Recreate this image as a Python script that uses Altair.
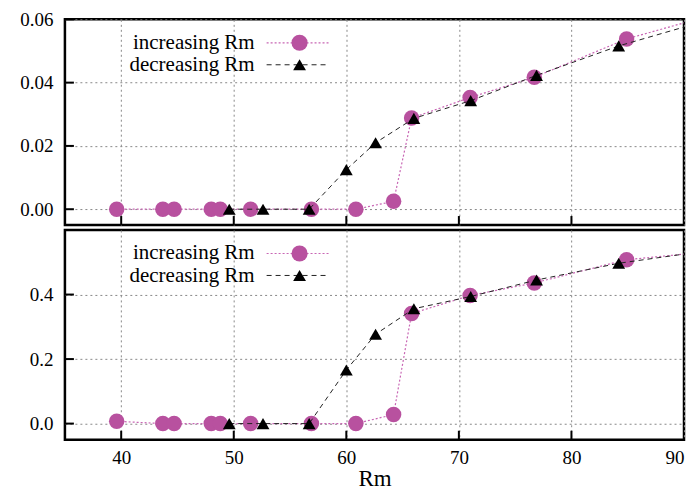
import altair as alt
import pandas as pd

# ---- data ----
inc_rm = [39.6, 43.7, 44.7, 48.0, 48.8, 51.5, 56.9, 60.85, 64.2, 65.8, 71.0, 76.7, 84.9, 95.0]
inc_top = [0.0, 0.0, 0.0, 0.0, 0.0, 0.0, 0.0, 0.0, 0.0025, 0.0288, 0.0353, 0.0417, 0.0538, 0.0639]
inc_bot = [0.007, 0.0, 0.0, 0.0, 0.0, 0.0, 0.0, 0.0, 0.028, 0.341, 0.397, 0.436, 0.508, 0.542]

dec_rm = [49.6, 52.6, 56.7, 60.0, 62.6, 66.0, 71.05, 76.9, 84.2, 95.0]
dec_top = [0.0, 0.0, 0.0, 0.0125, 0.021, 0.0287, 0.0343, 0.0423, 0.0516, 0.0627]
dec_bot = [0.0, 0.0, 0.0, 0.166, 0.277, 0.356, 0.394, 0.445, 0.497, 0.55]

x_ticks = [40, 50, 60, 70, 80, 90]
top_yticks = [0.0, 0.02, 0.04, 0.06]
bot_yticks = [0.0, 0.2, 0.4]
series_labels = ["increasing Rm", "decreasing Rm"]

# ---- styling ----
FONT = "Liberation Serif"
PURPLE = "#b8519f"
PINK = "#c866b4"
W = 620
H1 = 206
H2 = 210
TICK_LEN = 9


def panel(inc_vals, dec_vals, ydomain, yticks, fmt, height, bottom):
    xscale = alt.Scale(domain=[35, 90], nice=False, zero=False)
    yscale = alt.Scale(domain=ydomain, nice=False, zero=False)
    if bottom:
        xaxis = alt.Axis(values=x_ticks, format="d", grid=True, ticks=False, tickSize=0,
                         domain=False, labelPadding=9, title="Rm", titlePadding=0)
    else:
        xaxis = alt.Axis(values=x_ticks, grid=True, ticks=False, tickSize=0, domain=False,
                         labels=False, title=None, minExtent=0, maxExtent=0)
    yaxis = alt.Axis(values=yticks, format=fmt, grid=True, ticks=False, tickSize=0,
                     domain=False, labelPadding=12, title=None, minExtent=55, maxExtent=55)
    X = alt.X("Rm:Q", scale=xscale, axis=xaxis)
    Y = alt.Y("val:Q", scale=yscale, axis=yaxis)

    inc = pd.DataFrame({"Rm": inc_rm, "val": inc_vals})
    dec = pd.DataFrame({"Rm": dec_rm, "val": dec_vals})

    inc_line = alt.Chart(inc).mark_line(color=PINK, strokeDash=[2, 2], strokeWidth=1.2,
                                        clip=True).encode(x=X, y=Y)
    inc_pts = alt.Chart(inc).mark_point(shape="circle", filled=True, size=240, color=PURPLE,
                                        opacity=1, clip=True).encode(x=X, y=Y)
    dec_line = alt.Chart(dec).mark_line(color="#222222", strokeDash=[5, 4], strokeWidth=1,
                                        clip=True).encode(x=X, y=Y)
    dec_pts = alt.Chart(dec).mark_point(shape="triangle-up", filled=True, size=165,
                                        color="black", opacity=1, clip=True).encode(x=X, y=Y)

    # inward ticks
    xt = pd.DataFrame({"Rm": x_ticks[:-1]})
    xtick_layer = alt.Chart(xt).mark_rule(color="black", strokeWidth=2).encode(
        x=X, y=alt.value(height), y2=alt.value(height - TICK_LEN))
    yt = pd.DataFrame({"val": yticks})
    ytick_layer = alt.Chart(yt).mark_rule(color="black", strokeWidth=2).encode(
        y=Y, x=alt.value(0), x2=alt.value(TICK_LEN))

    # legend (gnuplot style: label left, sample right)
    l1 = pd.DataFrame({"label": [series_labels[0]]})
    l2 = pd.DataFrame({"label": [series_labels[1]]})
    leg_t1 = alt.Chart(l1).mark_text(align="right", baseline="alphabetic", font=FONT,
                                     fontSize=21, color="black").encode(
        text="label:N", x=alt.value(190), y=alt.value(29.5))
    leg_t2 = alt.Chart(l2).mark_text(align="right", baseline="alphabetic", font=FONT,
                                     fontSize=21, color="black").encode(
        text="label:N", x=alt.value(190), y=alt.value(52))
    leg_l1 = alt.Chart(l1).mark_rule(color=PINK, strokeDash=[2, 2], strokeWidth=1.2).encode(
        x=alt.value(202), x2=alt.value(265), y=alt.value(23.5))
    leg_p1 = alt.Chart(l1).mark_point(shape="circle", filled=True, size=260, color=PURPLE,
                                      opacity=1).encode(x=alt.value(235), y=alt.value(23.5))
    leg_l2 = alt.Chart(l2).mark_rule(color="#222222", strokeDash=[5, 4], strokeWidth=1).encode(
        x=alt.value(202), x2=alt.value(265), y=alt.value(45.5))
    leg_p2 = alt.Chart(l2).mark_point(shape="triangle-up", filled=True, size=165,
                                      color="black", opacity=1).encode(
        x=alt.value(235), y=alt.value(45.5))

    return alt.layer(
        inc_line, inc_pts, dec_line, dec_pts, xtick_layer, ytick_layer,
        leg_t1, leg_t2, leg_l1, leg_p1, leg_l2, leg_p2,
    ).properties(width=W, height=height)


top = panel(inc_top, dec_top, [-0.005, 0.06], top_yticks, ".2f", H1, False)
bot = panel(inc_bot, dec_bot, [-0.05, 0.6], bot_yticks, ".1f", H2, True)

chart = alt.vconcat(top, bot, spacing=0).properties(
    padding={"left": 0, "top": 0, "right": 0, "bottom": 0}
).configure_view(
    stroke="black", strokeWidth=2.5
).configure_axis(
    labelFont=FONT, labelFontSize=19, labelColor="black",
    titleFont=FONT, titleFontSize=23, titleFontWeight="normal", titleColor="black",
    gridColor="#888888", gridDash=[2, 3], gridWidth=1, gridOpacity=1,
)

chart.save("out.html", embed_options={"renderer": "svg", "actions": False})
